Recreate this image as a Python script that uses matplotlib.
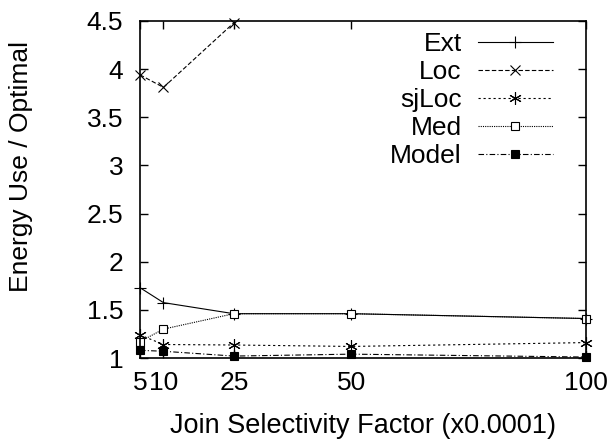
import matplotlib
matplotlib.use('Agg')
from matplotlib import pyplot as plt

plt.rcParams['font.family'] = ['Liberation Sans', 'DejaVu Sans']

x = [5, 10, 25, 50, 100]
ext = [1.73, 1.575, 1.46, 1.46, 1.41]
loc_x = [5, 10, 25]
loc = [3.94, 3.81, 4.48]
sjloc = [1.24, 1.14, 1.135, 1.12, 1.16]
med = [1.17, 1.30, 1.46, 1.46, 1.41]
model = [1.08, 1.07, 1.02, 1.04, 1.01]

xticks = [5, 10, 25, 50, 100]
yticks = [1, 1.5, 2, 2.5, 3, 3.5, 4, 4.5]
ytick_labels = ['1', '1.5', '2', '2.5', '3', '3.5', '4', '4.5']

fs = 19
fig = plt.figure(figsize=(6.14, 4.45), dpi=100)
ax = fig.add_axes([0.228, 0.1955, 0.726, 0.7575])

lw = 0.8
ax.plot(x, ext, color='black', lw=lw, ls='-', marker='+', ms=8, mew=lw, label='Ext', clip_on=False)
ax.plot(loc_x, loc, color='black', lw=lw, ls=(0, (4, 2)), marker='x', ms=7, mew=lw, label='Loc', clip_on=False)
ax.plot(x, sjloc, color='black', lw=lw, ls=(0, (2, 2.5)), marker=(6, 2, 0), ms=9, mew=lw, label='sjLoc', clip_on=False)
ax.plot(x, med, color='black', lw=lw, ls=(0, (1, 1)), marker='s', ms=6, mew=lw, mfc='white', label='Med', clip_on=False)
ax.plot(x, model, color='black', lw=lw, ls=(0, (5, 2, 1, 2)), marker='s', ms=6, mew=lw, label='Model', clip_on=False)

ax.set_xlim(5, 100)
ax.set_ylim(1, 4.5)
ax.set_xticks(xticks)
ax.set_xticklabels([str(t) for t in xticks])
ax.set_yticks(yticks)
ax.set_yticklabels(ytick_labels)
ax.tick_params(direction='in', length=6, width=1, top=True, right=True, labelsize=fs)
ax.tick_params(axis='y', pad=12)
ax.tick_params(axis='x', pad=9)
for s in ax.spines.values():
    s.set_linewidth(1.2)

ax.set_xlabel('Join Selectivity Factor (x0.0001)', fontsize=19.5)
ax.set_ylabel('Energy Use / Optimal', fontsize=fs)
ax.xaxis.set_label_coords(0.5, -0.163)
ax.yaxis.set_label_coords(-0.24, 0.567)

leg = ax.legend(loc='upper right', markerfirst=False, frameon=False, fontsize=fs,
                handlelength=2.85, handletextpad=0.6, labelspacing=0.15,
                bbox_to_anchor=(0.926, 0.967), borderaxespad=0, borderpad=0)

fig.savefig('out.png', dpi=100)
